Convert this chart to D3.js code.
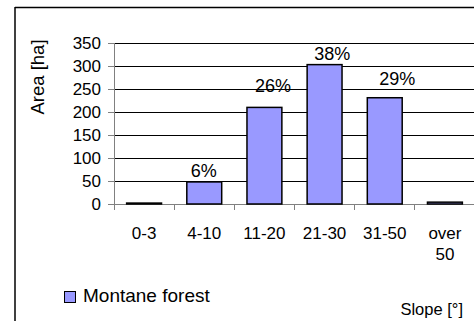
<!DOCTYPE html>
<html>
<head>
<meta charset="utf-8">
<script src="https://cdn.jsdelivr.net/npm/d3@7"></script>
<style>
  html, body { margin: 0; padding: 0; background: #fff; }
  svg { display: block; font-family: "Liberation Sans", Arial, sans-serif; }
</style>
</head>
<body>
<svg id="chart" width="474" height="321"></svg>
<script>
// Slope classes (degrees) and montane forest area per class (ha)
const categories = ["0-3", "4-10", "11-20", "21-30", "31-50", "over 50"];
const areaHa = [2, 48, 210, 303, 231, 4];
const shareLabels = ["", "6%", "26%", "38%", "29%", ""];
const yTicks = [0, 50, 100, 150, 200, 250, 300, 350];
const seriesName = "Montane forest";

const svg = d3.select("#chart");
const barFill = "#9999ff";

// plot area
const plot = { left: 114, right: 475, top: 43, bottom: 204 };

const y = d3.scaleLinear().domain([0, 350]).range([plot.bottom, plot.top]);
const x = d3.scaleBand()
  .domain(categories)
  .range([plot.left, plot.right])
  .paddingInner(0.42)
  .paddingOuter(0.21);

// outer chart frame (top and left edges fall inside the view)
svg.append("line").attr("x1", 15).attr("x2", 474).attr("y1", 7.5).attr("y2", 7.5)
  .attr("stroke", "#000").attr("stroke-width", 1.5);
svg.append("line").attr("x1", 15).attr("x2", 15).attr("y1", 7).attr("y2", 321)
  .attr("stroke", "#000").attr("stroke-width", 1.5);

// horizontal gridlines
const grid = svg.append("g")
  .attr("transform", `translate(${plot.left},0)`)
  .call(d3.axisLeft(y).tickValues(yTicks.filter(v => v > 0))
    .tickSize(-(plot.right - plot.left)).tickFormat(""));
grid.select(".domain").remove();
grid.selectAll(".tick line").attr("stroke", "#000").attr("stroke-width", 1).attr("shape-rendering", "crispEdges");

// y axis with labels
const yAxis = svg.append("g")
  .attr("transform", `translate(${plot.left},0)`)
  .call(d3.axisLeft(y).tickValues(yTicks).tickSize(6).tickPadding(7));
yAxis.select(".domain").attr("stroke", "#808080").attr("shape-rendering", "crispEdges");
yAxis.selectAll(".tick line").attr("stroke", "#808080").attr("shape-rendering", "crispEdges");
yAxis.selectAll(".tick text")
  .attr("fill", "#000")
  .style("font-size", "17px")
  .style("font-family", "'Liberation Sans', Arial, sans-serif");

// x axis line and boundary ticks
svg.append("line")
  .attr("x1", plot.left).attr("x2", plot.right)
  .attr("y1", plot.bottom).attr("y2", plot.bottom)
  .attr("stroke", "#808080").attr("shape-rendering", "crispEdges");
const step = x.step();
const boundaries = categories.map(c => x(c) - step * x.paddingInner() / 2);
svg.append("g").selectAll("line").data(boundaries).join("line")
  .attr("x1", d => d).attr("x2", d => d)
  .attr("y1", plot.bottom).attr("y2", plot.bottom + 6)
  .attr("stroke", "#808080").attr("shape-rendering", "crispEdges");

// category labels, wrapped on spaces
const catText = svg.append("g").selectAll("text").data(categories).join("text")
  .attr("x", d => x(d) + x.bandwidth() / 2)
  .attr("y", 239)
  .attr("text-anchor", "middle")
  .style("font-size", "17px")
  .attr("fill", "#000");
catText.each(function(d) {
  const parts = d.split(" ");
  const t = d3.select(this);
  parts.forEach((p, i) => {
    t.append("tspan")
      .attr("x", x(d) + x.bandwidth() / 2)
      .attr("dy", i === 0 ? 0 : 21)
      .text(p);
  });
});

// bars
svg.append("g").selectAll("rect").data(categories).join("rect")
  .attr("x", d => x(d))
  .attr("width", x.bandwidth())
  .attr("y", (d, i) => y(areaHa[i]))
  .attr("height", (d, i) => y(0) - y(areaHa[i]))
  .attr("fill", barFill)
  .attr("stroke", "#000")
  .attr("stroke-width", 1.5);

// share labels above bars (small nudges keep them clear of the gridlines)
const labelNudge = [[0, 0], [4, 0], [8, -10], [7, 0], [12, -8], [0, 0]];
svg.append("g").selectAll("text").data(categories).join("text")
  .attr("x", (d, i) => x(d) + labelNudge[i][0])
  .attr("y", (d, i) => y(areaHa[i]) - 5 + labelNudge[i][1])
  .attr("text-anchor", "start")
  .style("font-size", "18px")
  .attr("fill", "#000")
  .text((d, i) => shareLabels[i]);

// y axis title
svg.append("text")
  .attr("transform", `translate(44,77) rotate(-90)`)
  .attr("text-anchor", "middle")
  .style("font-size", "18.5px")
  .attr("fill", "#000")
  .text("Area [ha]");

// x axis title
svg.append("text")
  .attr("x", 463).attr("y", 315)
  .attr("text-anchor", "end")
  .style("font-size", "16.5px")
  .attr("fill", "#000")
  .text("Slope [°]");

// legend
const legend = svg.append("g");
legend.append("rect")
  .attr("x", 64.5).attr("y", 291.5).attr("width", 11).attr("height", 11)
  .attr("fill", barFill).attr("stroke", "#000").attr("stroke-width", 1);
legend.append("text")
  .attr("x", 83).attr("y", 302)
  .style("font-size", "19px")
  .attr("fill", "#000")
  .text(seriesName);
</script>
</body>
</html>
